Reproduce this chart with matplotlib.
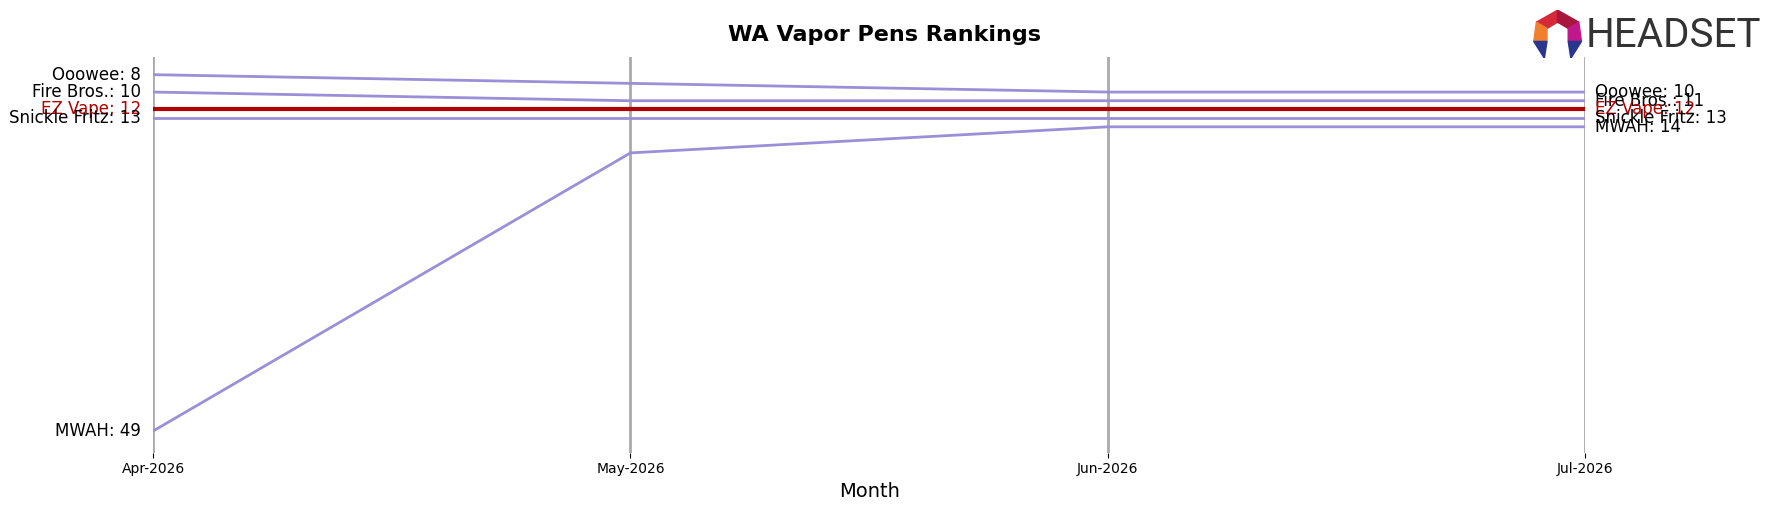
import matplotlib
matplotlib.use('Agg')
import matplotlib.pyplot as plt
from matplotlib.patches import Polygon

months = ['Apr-2026', 'May-2026', 'Jun-2026', 'Jul-2026']
brands = ['Ooowee', 'Fire Bros.', 'EZ Vape', 'Snickle Fritz', 'MWAH']
ranks = {
    'Ooowee': [8, 9, 10, 10],
    'Fire Bros.': [10, 11, 11, 11],
    'EZ Vape': [12, 12, 12, 12],
    'Snickle Fritz': [13, 13, 13, 13],
    'MWAH': [49, 17, 14, 14],
}
highlight = 'EZ Vape'

fig = plt.figure(figsize=(17.68, 5.07), dpi=100)
ax = fig.add_axes([0.0866, 0.107, 0.81, 0.78])
x = list(range(len(months)))

for xi in x:
    ax.axvline(xi, color='#aaaaaa', lw=2, zorder=1)

for b in brands:
    r = ranks[b]
    if b == highlight:
        ax.plot(x, r, color='#b00000', lw=3, zorder=3)
        c = '#b00000'
    else:
        ax.plot(x, r, color='#9b8fd8', lw=2, zorder=2)
        c = 'black'
    ax.text(-0.025, r[0], f'{b}: {r[0]}', ha='right', va='center', fontsize=12, color=c, clip_on=False)
    ax.text(x[-1] + 0.02, r[-1], f'{b}: {r[-1]}', ha='left', va='center', fontsize=12, color=c, clip_on=False)

ax.set_xlim(0, 3)
ax.set_ylim(51.5, 6)
ax.set_xticks(x)
ax.set_xticklabels(months, fontsize=10)
ax.set_yticks([])
ax.set_xlabel('Month', fontsize=14)
for s in ax.spines.values():
    s.set_visible(False)
fig.suptitle('WA Vapor Pens Rankings', fontsize=16, fontweight='bold', y=0.95)

# logo
lax = fig.add_axes([0.866, 0.885, 0.03, 0.095])
lax.set_xlim(0, 1); lax.set_ylim(0, 1); lax.axis('off')
lax.add_patch(Polygon([[0.1, 0.75], [0.5, 1.0], [0.5, 0.75], [0.3, 0.62]], color='#d42a3a'))
lax.add_patch(Polygon([[0.5, 1.0], [0.9, 0.75], [0.7, 0.62], [0.5, 0.75]], color='#a8163e'))
lax.add_patch(Polygon([[0.1, 0.75], [0.3, 0.62], [0.3, 0.35], [0.05, 0.35]], color='#f08030'))
lax.add_patch(Polygon([[0.9, 0.75], [0.7, 0.62], [0.7, 0.35], [0.95, 0.35]], color='#c0188a'))
lax.add_patch(Polygon([[0.05, 0.35], [0.3, 0.35], [0.25, 0.0]], color='#2a3590'))
lax.add_patch(Polygon([[0.95, 0.35], [0.7, 0.35], [0.75, 0.0]], color='#2a3590'))
fig.text(0.897, 0.93, 'HEADSET', fontsize=29, color='#333333', va='center', ha='left', family='Roboto')

fig.savefig('out.png', dpi=100)
